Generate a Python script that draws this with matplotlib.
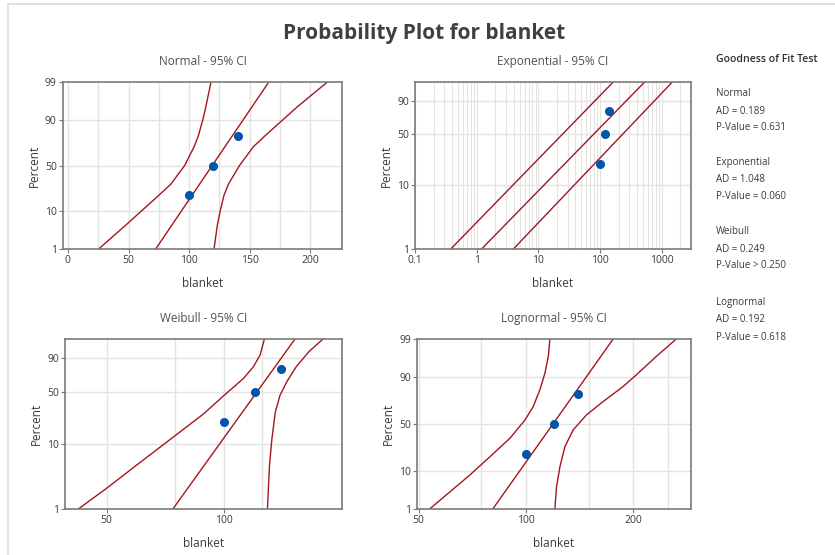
import math
import numpy as np
import matplotlib
matplotlib.use('Agg')
import matplotlib.pyplot as plt
from matplotlib.ticker import FixedLocator, NullLocator, FixedFormatter
from matplotlib.lines import Line2D

plt.rcParams['font.family'] = ['Open Sans', 'DejaVu Sans']

# data: sample values and their plotting positions (percent)
blanket = [100, 120, 140]
pct_pts = [20.6, 50.0, 79.4]

# Normal panel curves (percent, blanket)
norm_pct = [1, 5, 10, 20, 30, 50, 70, 80, 90, 95, 99]
norm_lo = [25.4, 48.3, 60.2, 74.6, 84.8, 96.3, 104.1, 107.7, 111.3, 113.8, 118.0]
norm_hi = [120.5, 123.3, 125.5, 128.6, 132.3, 141.5, 153.0, 163.0, 177.5, 189.5, 214.0]
norm_fit_pct = [1, 50, 99]
norm_fit = [72.4, 119.0, 165.7]

# Exponential panel curves
expo_pct = [1, 99]
expo_fit = [1.2, 530.0]
expo_lo = [0.38, 164.0]
expo_hi = [3.94, 1490.0]

# Weibull panel curves
weib_fit_pct = [1, 99]
weib_fit = [73.9, 152.0]
weib_lo_pct = [1, 2.1, 5.2, 13.1, 26.5, 45.3, 67.0, 81.6, 92.5, 99]
weib_lo = [42.3, 50.0, 60.8, 74.8, 88.5, 100.0, 112.1, 118.9, 123.7, 126.9]
weib_hi_pct = [1, 4.6, 11.7, 28.0, 45.3, 62.7, 81.6, 94.6, 99]
weib_hi = [129.2, 130.7, 132.6, 135.3, 139.1, 144.8, 153.1, 165.0, 179.4]

# Lognormal panel curves
logn_fit_pct = [1, 99]
logn_fit = [80.7, 175.5]
logn_lo_pct = [1, 3.2, 8.2, 18.6, 34.9, 54.5, 68.4, 82.6, 91.8, 96.8, 99]
logn_lo = [53.7, 61.3, 69.7, 79.3, 90.2, 99.4, 104.8, 109.4, 113.0, 115.5, 116.7]
logn_hi_pct = [1, 4.3, 12.2, 26.9, 43.6, 59.9, 73.1, 84.8, 91.1, 96.8, 99]
logn_hi = [120.5, 121.8, 124.5, 128.6, 135.6, 147.8, 164.6, 187.2, 203.9, 232.0, 263.8]

gof = [('Normal', '0.189', '= 0.631'),
       ('Exponential', '1.048', '= 0.060'),
       ('Weibull', '0.249', '> 0.250'),
       ('Lognormal', '0.192', '= 0.618')]


# inverse normal cdf (Acklam)
def norm_ppf(p):
    p = np.clip(np.asarray(p, float), 1e-12, 1 - 1e-12)
    a = [-3.969683028665376e+01, 2.209460984245205e+02, -2.759285104469687e+02,
         1.383577518672690e+02, -3.066479806614716e+01, 2.506628277459239e+00]
    b = [-5.447609879822406e+01, 1.615858368580409e+02, -1.556989798598866e+02,
         6.680131188771972e+01, -1.328068155288572e+01]
    c = [-7.784894002430293e-03, -3.223964580411365e-01, -2.400758277161838e+00,
         -2.549732539343734e+00, 4.374664141464968e+00, 2.938163982698783e+00]
    d = [7.784695709041462e-03, 3.224671290700398e-01, 2.445134137142996e+00,
         3.754408661907416e+00]
    out = np.empty_like(p)
    lo = p < 0.02425
    hi = p > 1 - 0.02425
    mid = ~(lo | hi)
    q = np.sqrt(-2 * np.log(p[lo]))
    out[lo] = (((((c[0]*q+c[1])*q+c[2])*q+c[3])*q+c[4])*q+c[5]) / ((((d[0]*q+d[1])*q+d[2])*q+d[3])*q+1)
    q = np.sqrt(-2 * np.log(1 - p[hi]))
    out[hi] = -(((((c[0]*q+c[1])*q+c[2])*q+c[3])*q+c[4])*q+c[5]) / ((((d[0]*q+d[1])*q+d[2])*q+d[3])*q+1)
    q = p[mid] - 0.5
    r = q * q
    out[mid] = (((((a[0]*r+a[1])*r+a[2])*r+a[3])*r+a[4])*r+a[5])*q / (((((b[0]*r+b[1])*r+b[2])*r+b[3])*r+b[4])*r+1)
    return out


_erf = np.vectorize(math.erf)


def norm_fwd(y):
    return norm_ppf(np.asarray(y, float) / 100.0)


def norm_inv(z):
    return 50.0 * (1 + _erf(np.asarray(z, float) / math.sqrt(2)))


def weib_fwd(y):
    p = np.clip(np.asarray(y, float) / 100.0, 1e-12, 1 - 1e-12)
    return np.log(-np.log(1 - p))


def weib_inv(w):
    return 100.0 * (1 - np.exp(-np.exp(np.asarray(w, float))))


RED = '#a3161d'
BLUE = '#0056a8'
GRID = '#e3e3e3'
TXT = '#3a3a3a'

fig = plt.figure(figsize=(8.35, 5.55), dpi=100)
W, H = 835, 555


def add_ax(l, r, t, b):
    return fig.add_axes([l / W, 1 - b / H, (r - l) / W, (b - t) / H])


def style(ax, title, yscale, yticks, xticks, xlabels, xgrid, glw=1.0):
    ax.set_yscale('function', functions=yscale)
    ax.set_ylim(1, 99)
    ax.yaxis.set_major_locator(FixedLocator(yticks))
    ax.yaxis.set_major_formatter(FixedFormatter([str(v) for v in yticks]))
    ax.yaxis.set_minor_locator(NullLocator())
    ax.xaxis.set_major_locator(FixedLocator(xticks))
    ax.xaxis.set_major_formatter(FixedFormatter(xlabels))
    ax.xaxis.set_minor_locator(NullLocator())
    for g in xgrid:
        ax.axvline(g, color=GRID, lw=glw, zorder=0)
    for g in [10, 50, 90]:
        ax.axhline(g, color=GRID, lw=1.0, zorder=0)
    for s in ax.spines.values():
        s.set_color('#7a7a7a')
        s.set_linewidth(1.2)
    ax.tick_params(colors='#7a7a7a', labelcolor=TXT, labelsize=7.5, length=3, width=0.8, pad=1.5)
    ax.set_title(title, fontsize=8.5, color='#505050', pad=12)
    ax.set_xlabel('blanket', fontsize=8.5, color=TXT, labelpad=8)
    ax.set_ylabel('Percent', fontsize=8.5, color=TXT, labelpad=3)


def curves(ax, parts):
    for xs, ps in parts:
        ax.plot(xs, ps, color=RED, lw=1.0, zorder=2, clip_on=True)
    ax.plot(blanket, pct_pts, 'o', color=BLUE, ms=5.5, zorder=3)


# Normal
ax1 = add_ax(63, 342, 82, 249)
style(ax1, 'Normal - 95% CI', (norm_fwd, norm_inv), [1, 10, 50, 90, 99],
      [0, 50, 100, 150, 200], ['0', '50', '100', '150', '200'],
      [0, 25, 50, 75, 100, 125, 150, 175, 200])
ax1.set_xlim(-4, 226)
curves(ax1, [(norm_lo, norm_pct), (norm_fit, norm_fit_pct), (norm_hi, norm_pct)])

# Exponential
ax2 = add_ax(415, 691, 82, 249)
ax2.set_xscale('log')
egrid = [m * 10.0 ** e for e in range(-1, 4) for m in range(1, 10)]
style(ax2, 'Exponential - 95% CI', (weib_fwd, weib_inv), [1, 10, 50, 90],
      [0.1, 1, 10, 100, 1000], ['0.1', '1', '10', '100', '1000'], egrid, glw=0.8)
ax2.set_xlim(0.1, 2990)
curves(ax2, [(expo_lo, expo_pct), (expo_fit, expo_pct), (expo_hi, expo_pct)])

# Weibull
ax3 = add_ax(65, 342, 339, 509)
ax3.set_xscale('log')
style(ax3, 'Weibull - 95% CI', (weib_fwd, weib_inv), [1, 10, 50, 90],
      [50, 100], ['50', '100'], [50, 75, 100, 125])
ax3.set_xlim(39.1, 200.6)
curves(ax3, [(weib_lo, weib_lo_pct), (weib_fit, weib_fit_pct), (weib_hi, weib_hi_pct)])

# Lognormal
ax4 = add_ax(417, 691, 339, 509)
ax4.set_xscale('log')
style(ax4, 'Lognormal - 95% CI', (norm_fwd, norm_inv), [1, 10, 50, 90, 99],
      [50, 100, 200], ['50', '100', '200'], [50, 75, 100, 150, 200, 250])
ax4.set_xlim(49.5, 290)
curves(ax4, [(logn_lo, logn_lo_pct), (logn_fit, logn_fit_pct), (logn_hi, logn_hi_pct)])

fig.text(424 / W, 1 - 33 / H, 'Probability Plot for blanket', ha='center', va='center',
         fontsize=15, fontweight='bold', color='#404040')

fig.text(716 / W, 1 - 60 / H, 'Goodness of Fit Test', ha='left', va='center',
         fontsize=7.6, fontweight='semibold', color='#303030')
ys = [94, 163, 232, 303]
for (name, ad, pv), y0 in zip(gof, ys):
    fig.text(716 / W, 1 - y0 / H, name, ha='left', va='center', fontsize=7, color=TXT)
    fig.text(716 / W, 1 - (y0 + 17) / H, 'AD = ' + ad, ha='left', va='center', fontsize=7, color=TXT)
    fig.text(716 / W, 1 - (y0 + 34) / H, 'P-Value ' + pv, ha='left', va='center', fontsize=7, color=TXT)

# light frame lines at top and left
fig.add_artist(Line2D([8 / W, 1], [1 - 4 / H, 1 - 4 / H], transform=fig.transFigure, color='#dcdcdc', lw=1.2))
fig.add_artist(Line2D([8 / W, 8 / W], [0, 1 - 4 / H], transform=fig.transFigure, color='#dcdcdc', lw=1.2))

fig.savefig('out.png', dpi=100, facecolor='white')
